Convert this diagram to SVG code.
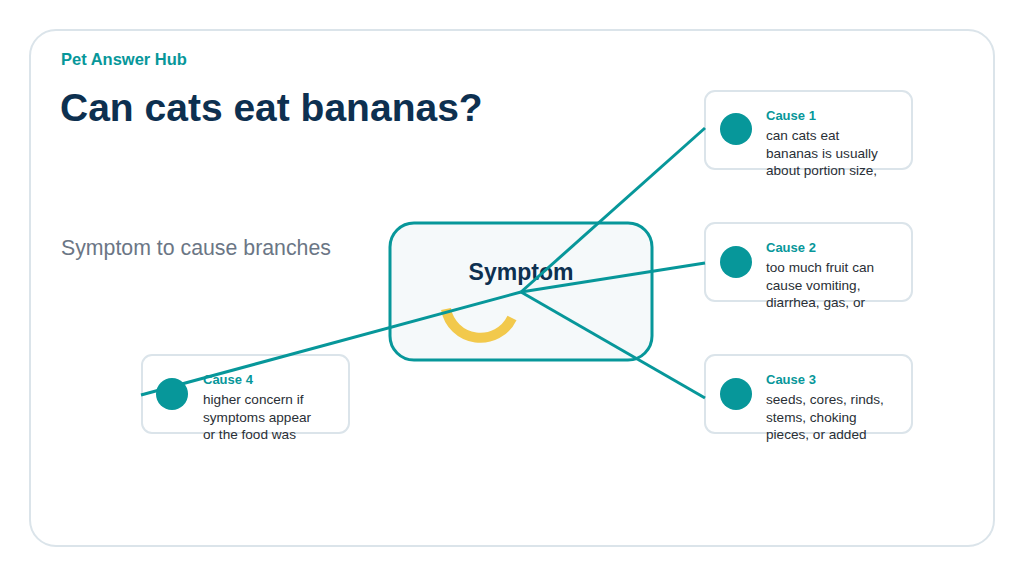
<svg xmlns="http://www.w3.org/2000/svg" width="1024" height="576" viewBox="0 0 1024 576">
<style>
.card{fill:#fff;stroke:#dbe4ea;stroke-width:2}
.dot{fill:#07979a}
.ct{font:bold 13px "Liberation Sans",Arial,sans-serif;fill:#07979a}
.cb{font:13.6px "Liberation Sans",Arial,sans-serif;fill:#2a2f36}
.con{stroke:#07979a;stroke-width:3;fill:none}
</style>
<rect width="1024" height="576" fill="#fff"/>
<rect x="30" y="30" width="964" height="516" rx="26" fill="#fff" stroke="#dbe4ea" stroke-width="2"/>
<text x="61" y="65" font-family="Liberation Sans,Arial,sans-serif" font-weight="bold" font-size="16.5" fill="#07979a">Pet Answer Hub</text>
<text x="60" y="121" font-family="Liberation Sans,Arial,sans-serif" font-weight="bold" font-size="39" fill="#0d3050">Can cats eat bananas?</text>
<text x="61" y="255" font-family="Liberation Sans,Arial,sans-serif" font-size="21.3" fill="#6b7685">Symptom to cause branches</text>
<g id="symptom">
<rect x="390" y="223" width="262" height="137" rx="24" fill="#f5f9fa" stroke="#07979a" stroke-width="3"/>
<text x="521" y="280" text-anchor="middle" font-family="Liberation Sans,Arial,sans-serif" font-weight="bold" font-size="23" fill="#0d3050">Symptom</text>
<path d="M446,309 A35,35 0 0 0 512,318" fill="none" stroke="#f2c94c" stroke-width="10"/>
</g>
<g id="cause1"><rect class="card" x="705" y="91" width="207" height="78" rx="10"/><circle class="dot" cx="736" cy="129" r="16"/><text class="ct" x="766" y="120">Cause 1</text><text class="cb" x="766" y="140">can cats eat</text><text class="cb" x="766" y="158">bananas is usually</text><text class="cb" x="766" y="175">about portion size,</text></g>
<g id="cause2"><rect class="card" x="705" y="223" width="207" height="78" rx="10"/><circle class="dot" cx="736" cy="262" r="16"/><text class="ct" x="766" y="252">Cause 2</text><text class="cb" x="766" y="272">too much fruit can</text><text class="cb" x="766" y="290">cause vomiting,</text><text class="cb" x="766" y="307">diarrhea, gas, or</text></g>
<g id="cause3"><rect class="card" x="705" y="355" width="207" height="78" rx="10"/><circle class="dot" cx="736" cy="394" r="16"/><text class="ct" x="766" y="384">Cause 3</text><text class="cb" x="766" y="404">seeds, cores, rinds,</text><text class="cb" x="766" y="422">stems, choking</text><text class="cb" x="766" y="439">pieces, or added</text></g>
<g id="cause4"><rect class="card" x="142" y="355" width="207" height="78" rx="10"/><text class="ct" x="203" y="384">Cause 4</text><text class="cb" x="203" y="404">higher concern if</text><text class="cb" x="203" y="422">symptoms appear</text><text class="cb" x="203" y="439">or the food was</text></g>
<g id="connectors">
<line class="con" x1="521" y1="292" x2="705" y2="128"/>
<line class="con" x1="521" y1="292" x2="705" y2="263"/>
<line class="con" x1="521" y1="292" x2="705" y2="398"/>
<line class="con" x1="521" y1="292" x2="141" y2="395"/>
</g>
<circle class="dot" cx="172" cy="394" r="16"/>
</svg>
